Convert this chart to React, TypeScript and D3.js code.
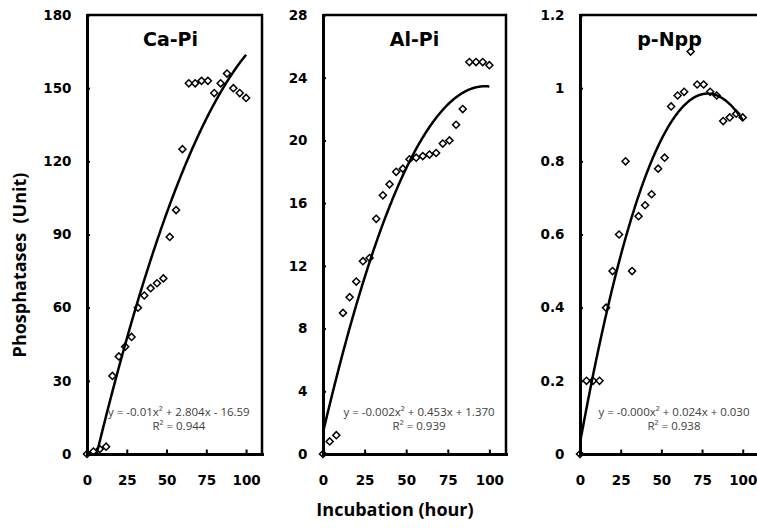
import React, { useRef, useEffect } from 'react';
import * as d3 from 'd3';

// sampling times (hour)
const hours = [0, 4, 8, 12, 16, 20, 24, 28, 32, 36, 40, 44, 48, 52, 56, 60, 64, 68, 72, 76, 80, 84, 88, 92, 96, 100];

const caPi = [0, 1, 2, 3, 32, 40, 44, 48, 60, 65, 68, 70, 72, 89, 100, 125, 152, 152, 153, 153, 148, 152, 156, 150, 148, 146];
const alPi = [0, 0.8, 1.2, 9, 10, 11, 12.3, 12.5, 15, 16.5, 17.2, 18, 18.2, 18.8, 18.9, 19, 19.1, 19.2, 19.8, 20, 21, 22, 25, 25, 25, 24.8];
const pNpp = [0, 0.2, 0.2, 0.2, 0.4, 0.5, 0.6, 0.8, 0.5, 0.65, 0.68, 0.71, 0.78, 0.81, 0.95, 0.98, 0.99, 1.1, 1.01, 1.01, 0.99, 0.98, 0.91, 0.92, 0.93, 0.92];

const hourTicks = [0, 25, 50, 75, 100];
const caPiTicks = [0, 30, 60, 90, 120, 150, 180];
const alPiTicks = [0, 4, 8, 12, 16, 20, 24, 28];
const pNppTicks = [0, 0.2, 0.4, 0.6, 0.8, 1, 1.2];

const titles = ['Ca-Pi', 'Al-Pi', 'p-Npp'];
const equations = ['y = -0.01x² + 2.804x - 16.59', 'y = -0.002x² + 0.453x + 1.370', 'y = -0.000x² + 0.024x + 0.030'];
const rSquared = ['R² = 0.944', 'R² = 0.939', 'R² = 0.938'];

// least squares quadratic, like the Excel trendline
function quadFit(xs: number[], ys: number[]) {
  const s = [0, 0, 0, 0, 0];
  const t = [0, 0, 0];
  xs.forEach((x, i) => {
    for (let k = 0; k < 5; k++) s[k] += Math.pow(x, k);
    for (let k = 0; k < 3; k++) t[k] += Math.pow(x, k) * ys[i];
  });
  const m = [
    [s[4], s[3], s[2], t[2]],
    [s[3], s[2], s[1], t[1]],
    [s[2], s[1], s[0], t[0]],
  ];
  for (let i = 0; i < 3; i++) {
    for (let j = i + 1; j < 3; j++) {
      const f = m[j][i] / m[i][i];
      for (let k = i; k < 4; k++) m[j][k] -= f * m[i][k];
    }
  }
  const r = [0, 0, 0];
  for (let i = 2; i >= 0; i--) {
    let v = m[i][3];
    for (let k = i + 1; k < 3; k++) v -= m[i][k] * r[k];
    r[i] = v / m[i][i];
  }
  return r; // a, b, c
}

const panels = [
  { values: caPi, ticks: caPiTicks, left: 87, right: 262 },
  { values: alPi, ticks: alPiTicks, left: 323, right: 506 },
  { values: pNpp, ticks: pNppTicks, left: 580, right: 759 },
];

const top = 15, bottom = 454;

export default function App() {
  const ref = useRef<SVGSVGElement>(null);

  useEffect(() => {
    const svg = d3.select(ref.current);
    svg.selectAll('*').remove();

    panels.forEach((p, i) => {
      const x = d3.scaleLinear().domain([0, 110]).range([p.left, p.right]);
      const y = d3.scaleLinear().domain([0, p.ticks[p.ticks.length - 1]]).range([bottom, top]);
      const g = svg.append('g');

      const clipId = `clip${i}`;
      g.append('clipPath').attr('id', clipId)
        .append('rect')
        .attr('x', p.left).attr('y', top)
        .attr('width', p.right - p.left).attr('height', bottom - top);

      // box top / right
      g.append('path')
        .attr('d', `M${p.left},${top}H${p.right}V${bottom}`)
        .attr('fill', 'none')
        .attr('stroke', '#000')
        .attr('stroke-width', 2.5);

      // markers
      g.selectAll('.pt')
        .data(p.values)
        .enter()
        .append('path')
        .attr('d', d3.symbol(d3.symbolSquare, 25)())
        .attr('transform', (d, k) => `translate(${x(hours[k])},${y(d)}) rotate(45)`)
        .attr('fill', '#fff')
        .attr('stroke', '#000')
        .attr('stroke-width', 1.5);

      const yAxis = g.append('g')
        .attr('transform', `translate(${p.left},0)`)
        .call(d3.axisLeft(y).tickValues(p.ticks).tickFormat(d => String(d))
          .tickSizeInner(-3).tickSizeOuter(0).tickPadding(15.5));
      const xAxis = g.append('g')
        .attr('transform', `translate(0,${bottom})`)
        .call(d3.axisBottom(x).tickValues(hourTicks).tickFormat(d => String(d))
          .tickSizeInner(-4.5).tickSizeOuter(0).tickPadding(21));

      [yAxis, xAxis].forEach(a => {
        a.select('.domain').attr('stroke-width', 3).attr('stroke-linecap', 'square');
        a.selectAll('.tick line').attr('stroke-width', 2);
        a.selectAll('.tick text')
          .attr('fill', '#000')
          .style('font-family', '"DejaVu Sans", sans-serif')
          .style('font-size', '13.5px')
          .style('font-weight', 'bold');
      });

      // trendline
      const [a, b, c] = quadFit(hours, p.values);
      const xs = d3.range(0, 100.25, 0.5);
      const line = d3.line<number>().x(d => x(d)).y(d => y(a * d * d + b * d + c));
      g.append('path')
        .attr('clip-path', `url(#${clipId})`)
        .attr('d', line(xs))
        .attr('fill', 'none')
        .attr('stroke', '#000')
        .attr('stroke-width', 2.5);

      const cx = p.left + (p.right - p.left) * 0.525;
      g.append('text')
        .attr('x', (p.left + p.right) / 2 - (i === 0 ? 4 : 0))
        .attr('y', 46)
        .attr('text-anchor', 'middle')
        .style('font-family', '"DejaVu Sans", sans-serif')
        .style('font-size', '19px')
        .style('font-weight', 'bold')
        .text(titles[i]);

      g.append('text')
        .attr('x', cx).attr('y', 415.5)
        .attr('text-anchor', 'middle')
        .attr('fill', '#404040')
        .style('font-family', '"Open Sans", sans-serif')
        .style('font-size', '11.5px')
        .text(equations[i]);
      g.append('text')
        .attr('x', cx).attr('y', 430)
        .attr('text-anchor', 'middle')
        .attr('fill', '#404040')
        .style('font-family', '"Open Sans", sans-serif')
        .style('font-size', '11.5px')
        .text(rSquared[i]);
    });

    svg.append('text')
      .attr('transform', 'translate(26,265) rotate(-90)')
      .attr('text-anchor', 'middle')
      .style('font-family', '"Open Sans", sans-serif')
      .style('font-size', '18px')
      .style('font-weight', 'bold')
      .style('white-space', 'pre')
      .text('Phosphatases  (Unit)');

    svg.append('text')
      .attr('x', 395).attr('y', 516)
      .attr('text-anchor', 'middle')
      .style('font-family', '"Open Sans", sans-serif')
      .style('font-size', '18px')
      .style('font-weight', 'bold')
      .text('Incubation (hour)');
  }, []);

  return (
    <svg ref={ref} width={757} height={532}
      style={{ position: 'absolute', left: 0, top: 0, background: '#fff' }} />
  );
}
